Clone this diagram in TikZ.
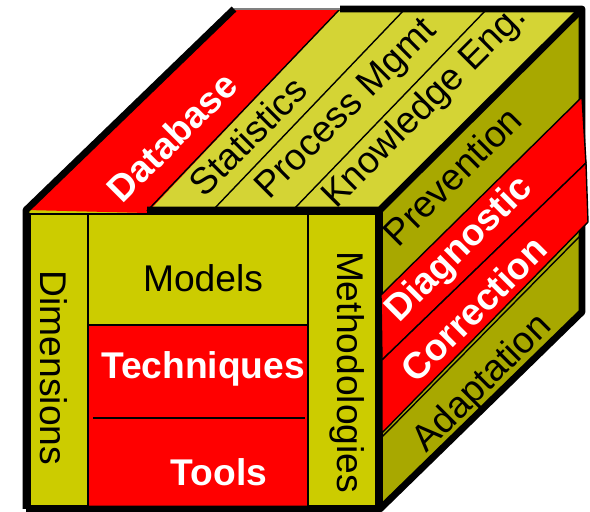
\documentclass[tikz,border=0pt]{standalone}
\usepackage{fontspec}
\setmainfont{Liberation Sans}
\usetikzlibrary{positioning}

\definecolor{frontolive}{HTML}{CCCC00}
\definecolor{topolive}{HTML}{D4D435}
\definecolor{sideolive}{HTML}{A8A800}
\definecolor{cubered}{HTML}{FF0000}

\begin{document}
\begin{tikzpicture}[
    x=0.5pt, y=-0.5pt,
    edge/.style={line width=3.4pt, line join=round},
    sep/.style={line width=0.7pt},
    tag/.style={font=\fontsize{18.6}{20}\selectfont, inner sep=0pt},
    boldtag/.style={tag, font=\fontsize{18.6}{20}\selectfont\bfseries, text=white}
]
    \useasboundingbox (0,0) rectangle (590,512);

    % Corners
    \coordinate (ftl) at (26,210);
    \coordinate (ftr) at (380,210);
    \coordinate (fbl) at (26,509);
    \coordinate (fbr) at (380,509);
    \coordinate (btl) at (234,9);
    \coordinate (btr) at (582,9);
    \coordinate (bbr) at (582,312);

    % Faces
    \fill[topolive] (ftl) -- (btl) -- (btr) -- (ftr) -- cycle;
    \fill[sideolive] (ftr) -- (btr) -- (bbr) -- (fbr) -- cycle;
    \fill[frontolive] (ftl) rectangle (fbr);

    % Top strips
    \fill[cubered] (ftl) -- (btl) -- (340,9) -- (147,213) -- cycle;
    \draw[sep] (147,211) -- (340,9);
    \draw[sep] (213,210) -- (405,9);
    \draw[sep] (293,210) -- (487,9);

    % Front grid
    \draw[sep, fill=frontolive] (30,214) rectangle (88,506);
    \draw[sep, fill=frontolive] (88,214) rectangle (308,325);
    \draw[sep, fill=cubered] (88,325) rectangle (308,507);
    \draw[sep] (93,418) -- (305,418);
    \draw[sep, fill=frontolive] (308,214) rectangle (376,506);

    % Outline
    \draw[sep, gray] (btl) -- (340,9);
    \draw[edge] (fbl) -- (ftl) -- (btl);
    \draw[edge] (340,9) -- (btr) -- (bbr) -- (fbr) -- (fbl);
    \draw[edge] (147,210) -- (ftr) -- (btr);
    \draw[edge] (ftr) -- (fbr);

    % Side strips
    \draw[sep, fill=cubered] (381,295) -- (582,97) -- (586,163) -- (382,360) -- cycle;
    \draw[sep, fill=cubered] (382,360) -- (586,163) -- (588,222) -- (382,433) -- cycle;
    \draw[sep] (382,437) -- (582,234);

    % Labels
    \node[boldtag, rotate=45] (database) at (172,137) {Database};
    \node[tag, rotate=45] (statistics) at (248,136) {Statistics};
    \node[tag, rotate=45] (process) at (347,110) {Process Mgmt};
    \node[tag, rotate=45] (knowledge) at (425,107) {Knowledge Eng.};

    \node[tag, rotate=45] (prevention) at (452,176) {Prevention};
    \node[boldtag, rotate=45] (diagnostic) at (460,250) {Diagnostic};
    \node[boldtag, rotate=45] (correction) at (474,309) {Correction};
    \node[tag, rotate=45] (adaptation) at (483,384) {Adaptation};

    \node[tag, rotate=-90] (dimensions) at (54,368) {Dimensions};
    \node[tag, rotate=-90] (methodologies) at (347,372) {Methodologies};
    \node[tag] (models) at (203,278) {Models};
    \node[boldtag] (techniques) at (203,369) {Techniques};
    \node[boldtag] (tools) at (219,472) {Tools};
\end{tikzpicture}
\end{document}
